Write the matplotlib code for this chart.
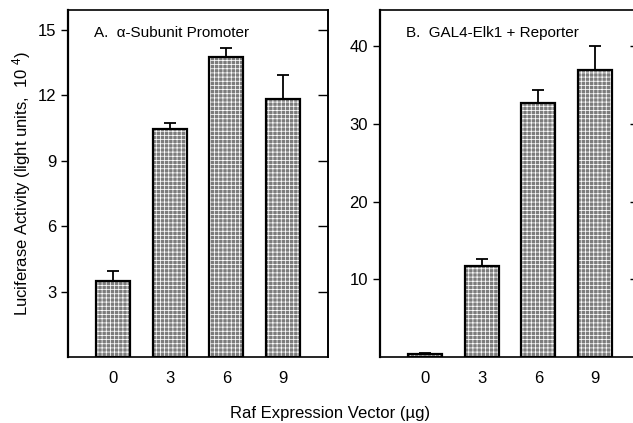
import matplotlib
import numpy as np
import matplotlib.pyplot as plt

matplotlib.use('Agg')

plt.rcParams['font.family'] = ['Liberation Sans', 'DejaVu Sans']
plt.rcParams['mathtext.default'] = 'regular'
plt.rcParams['hatch.linewidth'] = 0.55

# data
doses = ['0', '3', '6', '9']
alpha_vals = [3.46, 10.47, 13.75, 11.84]
alpha_err = [0.46, 0.27, 0.41, 1.06]
elk_vals = [0.42, 11.75, 32.65, 37.0]
elk_err = [0.13, 0.82, 1.75, 3.0]

W, H = 633, 423
fig = plt.figure(figsize=(W / 100, H / 100), dpi=100)
ax1 = fig.add_axes([68 / W, 66 / H, 260 / W, 347 / H])
ax2 = fig.add_axes([380 / W, 66 / H, 260 / W, 347 / H])


def draw_panel(ax, vals, err, ylim, yticks, label):
    x = np.arange(len(vals))
    # gray fill with white grid texture
    ax.bar(x, vals, width=0.6, color='#7c7c7c', edgecolor='white',
           hatch='++++', linewidth=0, zorder=2)
    ax.bar(x, vals, width=0.6, fill=False, edgecolor='black',
           linewidth=1.6, zorder=3)
    ax.errorbar(x, vals, yerr=[np.zeros(len(err)), err], fmt='none',
                ecolor='black', elinewidth=1.3, capsize=4, capthick=1.3,
                zorder=4)
    ax.set_xlim(-0.8, 3.8)
    ax.set_ylim(*ylim)
    ax.set_xticks(x)
    ax.set_xticklabels(doses, fontsize=12)
    ax.tick_params(axis='x', length=0, pad=10)
    ax.set_yticks(yticks)
    ax.tick_params(axis='y', direction='out', length=5, width=1,
                   labelsize=12)
    # small inward ticks on the right side
    sec = ax.secondary_yaxis('right')
    sec.set_yticks(yticks)
    sec.tick_params(direction='in', length=7, width=1, labelright=False)
    sec.spines['right'].set_linewidth(1.2)
    for s in ax.spines.values():
        s.set_linewidth(1.2)
    ax.spines['left'].set_linewidth(1.6)
    ax.text(0.1, 0.935, label, transform=ax.transAxes, fontsize=11,
            va='center', ha='left')


draw_panel(ax1, alpha_vals, alpha_err, (0, 15.9), [3, 6, 9, 12, 15],
           'A.  α-Subunit Promoter')
draw_panel(ax2, elk_vals, elk_err, (0, 44.66), [10, 20, 30, 40],
           'B.  GAL4-Elk1 + Reporter')

fig.text(22 / W, 0.567, 'Luciferase Activity (light units,  10 $^4$)',
         rotation=90, ha='center', va='center', fontsize=12)
fig.text(330 / W, 10 / H, 'Raf Expression Vector (µg)', ha='center',
         va='center', fontsize=12)

fig.savefig('out.png', dpi=100)
